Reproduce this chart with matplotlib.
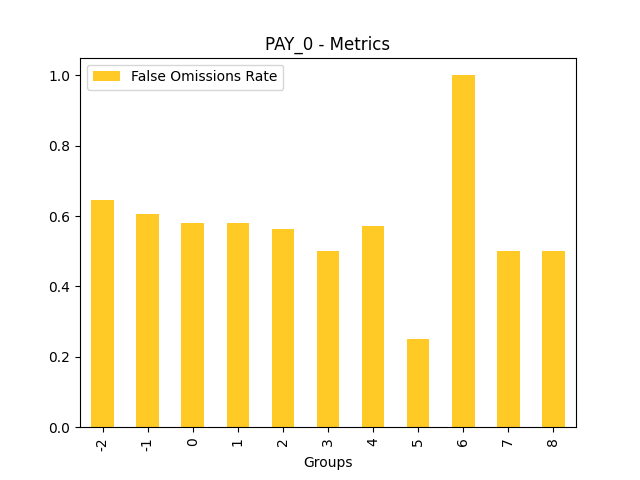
import matplotlib

matplotlib.use("Agg")
import matplotlib.pyplot as plt
import pandas as pd

groups = ["-2", "-1", "0", "1", "2", "3", "4", "5", "6", "7", "8"]
false_omission_rate = [0.645, 0.605, 0.58, 0.58, 0.5625, 0.5, 0.571, 0.25, 1.0, 0.5, 0.5]

df = pd.DataFrame({"False Omissions Rate": false_omission_rate}, index=groups)

fig, ax = plt.subplots(figsize=(6.4, 4.8), dpi=100)
df.plot(kind="bar", ax=ax, color="#FFC926")
ax.set_title("PAY_0 - Metrics")
ax.set_xlabel("Groups")
ax.legend(loc="upper left")
fig.savefig("out.png", dpi=100)
